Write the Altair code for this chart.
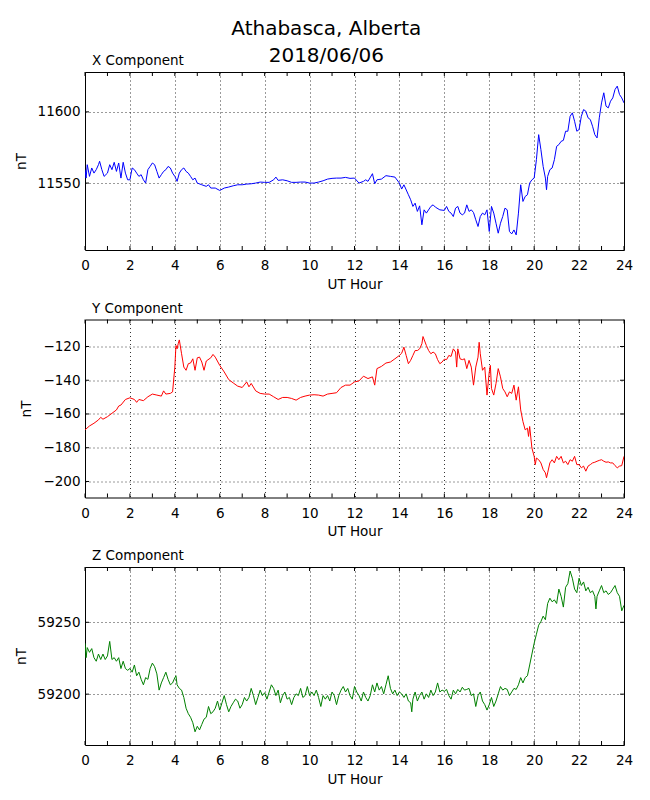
import altair as alt
import pandas as pd

TITLE_LINES = ["Athabasca, Alberta", "2018/06/06"]
HOUR_LABELS = list(range(0, 25, 2))
HOUR_MINOR = list(range(0, 25))

X_TICKS = [11550, 11600]
Y_TICKS = [-200, -180, -160, -140, -120]
Z_TICKS = [59200, 59250]

X_DOMAIN = [11503, 11628]
Y_DOMAIN = [-209.5, -104]
Z_DOMAIN = [59164.6, 59288.5]

X_SERIES = [(0.0,11559.4),(0.05,11553.5),(0.1,11562.9),(0.2,11554.7),(0.3,11560.6),(0.4,11557.0),(0.5,11559.4),(0.6,11562.9),(0.65,11565.3),(0.75,11559.4),(0.85,11554.7),(1.0,11557.0),(1.1,11562.9),(1.2,11559.4),(1.3,11564.6),(1.4,11558.2),(1.5,11564.1),(1.6,11553.5),(1.7,11564.6),(1.8,11557.0),(1.9,11552.3),(2.0,11552.3),(2.1,11560.6),(2.2,11559.4),(2.3,11557.0),(2.4,11554.7),(2.5,11555.9),(2.6,11552.3),(2.7,11550.0),(2.8,11559.4),(2.9,11561.7),(3.0,11564.1),(3.1,11562.9),(3.2,11558.2),(3.3,11553.5),(3.4,11555.9),(3.5,11558.2),(3.6,11559.4),(3.7,11561.7),(3.8,11560.6),(3.9,11557.0),(4.0,11554.7),(4.1,11551.2),(4.2,11557.0),(4.3,11559.4),(4.4,11560.6),(4.5,11558.2),(4.6,11557.0),(4.7,11554.7),(4.8,11552.3),(4.9,11553.5),(5.0,11550.0),(5.2,11548.8),(5.4,11547.7),(5.5,11548.8),(5.6,11546.5),(5.8,11546.5),(6.0,11544.8),(6.2,11546.5),(6.4,11547.2),(6.6,11548.1),(6.8,11548.8),(7.0,11548.8),(7.2,11549.3),(7.4,11549.5),(7.6,11550.0),(7.8,11550.7),(8.0,11550.5),(8.2,11550.5),(8.4,11552.3),(8.5,11554.2),(8.6,11551.9),(8.8,11552.3),(9.0,11551.6),(9.2,11550.5),(9.4,11550.5),(9.6,11550.7),(9.8,11550.7),(10.0,11550.0),(10.2,11550.0),(10.4,11550.7),(10.6,11551.6),(10.8,11552.8),(11.0,11553.3),(11.2,11553.5),(11.4,11553.5),(11.6,11554.0),(11.8,11553.3),(12.0,11553.5),(12.2,11550.0),(12.4,11551.2),(12.5,11552.3),(12.6,11551.2),(12.8,11556.6),(12.9,11549.5),(13.0,11552.3),(13.2,11552.8),(13.4,11555.2),(13.6,11554.7),(13.8,11554.2),(14.0,11550.0),(14.1,11545.8),(14.2,11548.8),(14.4,11541.8),(14.5,11538.3),(14.6,11533.6),(14.7,11535.9),(14.8,11530.1),(14.9,11534.0),(15.0,11520.7),(15.1,11531.2),(15.2,11528.9),(15.4,11533.6),(15.5,11534.7),(15.6,11533.1),(15.8,11531.2),(16.0,11530.8),(16.1,11533.6),(16.2,11530.1),(16.3,11528.9),(16.4,11526.5),(16.5,11532.4),(16.6,11533.6),(16.7,11528.9),(16.8,11527.7),(16.9,11528.9),(17.0,11534.7),(17.1,11530.1),(17.2,11531.2),(17.3,11529.3),(17.4,11524.2),(17.5,11519.5),(17.6,11526.5),(17.7,11528.9),(17.8,11527.7),(17.9,11531.2),(18.0,11516.0),(18.1,11533.6),(18.2,11528.9),(18.3,11521.8),(18.4,11514.8),(18.5,11521.8),(18.6,11526.5),(18.7,11532.4),(18.8,11531.2),(18.9,11516.0),(19.0,11514.3),(19.1,11517.1),(19.2,11513.6),(19.3,11528.9),(19.4,11548.8),(19.5,11537.1),(19.6,11540.6),(19.7,11541.8),(19.8,11550.0),(19.9,11552.3),(20.0,11553.5),(20.1,11566.4),(20.2,11584.0),(20.3,11573.5),(20.4,11561.7),(20.5,11553.5),(20.55,11545.3),(20.6,11554.7),(20.7,11559.4),(20.8,11560.6),(20.9,11566.4),(21.0,11575.8),(21.1,11577.0),(21.2,11579.3),(21.3,11580.0),(21.4,11586.4),(21.5,11586.4),(21.6,11596.9),(21.7,11599.3),(21.8,11593.4),(21.9,11586.4),(22.0,11587.6),(22.1,11596.9),(22.2,11601.6),(22.3,11600.5),(22.4,11595.8),(22.5,11594.6),(22.6,11589.9),(22.7,11584.0),(22.8,11581.7),(22.9,11595.8),(23.0,11606.3),(23.1,11613.4),(23.2,11604.0),(23.3,11602.8),(23.4,11607.5),(23.5,11609.8),(23.6,11615.7),(23.7,11618.1),(23.8,11612.2),(23.9,11609.8),(24.0,11606.3)]

Y_SERIES = [(0.0,-169.4),(0.2,-167.1),(0.4,-165.5),(0.6,-163.5),(0.7,-162.0),(0.8,-163.1),(1.0,-161.6),(1.2,-159.6),(1.4,-157.6),(1.5,-155.3),(1.6,-154.7),(1.8,-151.4),(2.0,-150.4),(2.2,-151.4),(2.3,-153.1),(2.4,-151.4),(2.6,-152.1),(2.8,-149.8),(3.0,-148.2),(3.2,-148.8),(3.4,-149.4),(3.5,-146.3),(3.6,-148.2),(3.8,-147.8),(3.9,-146.9),(4.0,-132.2),(4.05,-119.4),(4.1,-121.4),(4.15,-118.4),(4.2,-116.1),(4.3,-124.3),(4.4,-132.2),(4.5,-134.1),(4.6,-130.2),(4.7,-129.8),(4.8,-127.3),(4.9,-134.1),(5.0,-126.7),(5.1,-126.3),(5.2,-129.2),(5.3,-134.1),(5.4,-128.6),(5.6,-126.7),(5.7,-124.7),(5.8,-126.3),(6.0,-131.2),(6.2,-135.1),(6.4,-139.6),(6.6,-141.6),(6.8,-143.5),(7.0,-144.3),(7.2,-141.0),(7.3,-143.9),(7.4,-141.9),(7.6,-146.3),(7.8,-147.8),(8.0,-148.2),(8.2,-148.2),(8.4,-149.8),(8.6,-151.4),(8.8,-150.2),(9.0,-150.2),(9.2,-150.8),(9.4,-151.8),(9.6,-150.2),(9.8,-149.4),(10.0,-148.8),(10.2,-148.6),(10.4,-148.8),(10.6,-149.4),(10.8,-148.2),(11.0,-147.8),(11.2,-147.4),(11.4,-144.3),(11.6,-142.9),(11.8,-142.9),(12.0,-141.0),(12.2,-140.4),(12.4,-137.6),(12.6,-139.0),(12.8,-138.0),(12.9,-142.9),(13.0,-133.1),(13.2,-131.8),(13.4,-129.8),(13.6,-129.2),(13.8,-127.3),(14.0,-125.3),(14.1,-124.0),(14.2,-120.4),(14.3,-125.3),(14.4,-130.2),(14.5,-128.2),(14.6,-125.3),(14.7,-122.4),(14.8,-122.4),(14.9,-121.4),(15.0,-118.4),(15.05,-114.1),(15.2,-119.4),(15.3,-122.4),(15.4,-124.3),(15.5,-123.3),(15.6,-124.3),(15.7,-127.8),(15.8,-130.2),(15.9,-129.2),(16.0,-127.5),(16.1,-127.8),(16.2,-125.3),(16.3,-125.9),(16.4,-121.4),(16.5,-123.3),(16.55,-132.2),(16.6,-121.4),(16.7,-127.3),(16.8,-127.8),(16.9,-127.3),(17.0,-133.1),(17.1,-128.2),(17.2,-132.2),(17.3,-142.9),(17.4,-132.2),(17.5,-126.3),(17.55,-117.5),(17.6,-124.3),(17.7,-134.1),(17.8,-132.2),(17.9,-148.8),(18.0,-135.1),(18.05,-131.2),(18.1,-144.9),(18.2,-148.8),(18.3,-142.0),(18.4,-133.1),(18.5,-138.0),(18.6,-144.9),(18.7,-146.9),(18.8,-149.8),(18.9,-146.9),(19.0,-147.8),(19.1,-142.9),(19.2,-151.8),(19.3,-143.9),(19.4,-157.6),(19.5,-164.5),(19.6,-169.4),(19.7,-168.4),(19.75,-173.3),(19.8,-167.4),(19.9,-180.2),(20.0,-185.1),(20.05,-190.0),(20.1,-186.1),(20.2,-187.1),(20.3,-189.0),(20.4,-192.9),(20.5,-194.9),(20.55,-197.8),(20.6,-194.9),(20.7,-189.0),(20.8,-187.1),(20.9,-189.0),(21.0,-185.1),(21.1,-187.1),(21.2,-185.1),(21.3,-189.0),(21.4,-188.0),(21.5,-190.0),(21.6,-187.1),(21.7,-188.0),(21.8,-185.1),(21.9,-190.0),(22.0,-190.0),(22.1,-191.9),(22.2,-190.9),(22.3,-193.9),(22.4,-190.9),(22.5,-190.0),(22.6,-189.0),(22.7,-188.6),(22.8,-188.0),(22.9,-187.5),(23.0,-187.1),(23.1,-188.0),(23.2,-188.6),(23.3,-188.4),(23.4,-189.0),(23.5,-189.0),(23.6,-190.6),(23.7,-191.9),(23.8,-190.9),(23.9,-190.6),(24.0,-185.1)]

Z_SERIES = [(0.0,59235.4),(0.05,59225.4),(0.1,59232.4),(0.2,59229.1),(0.3,59231.7),(0.4,59225.4),(0.5,59222.9),(0.6,59227.9),(0.7,59224.1),(0.8,59227.9),(0.9,59224.1),(1.0,59226.6),(1.1,59236.7),(1.2,59224.1),(1.3,59225.4),(1.4,59222.9),(1.5,59225.4),(1.6,59217.8),(1.7,59222.9),(1.8,59217.8),(1.9,59216.6),(2.0,59217.8),(2.1,59215.3),(2.2,59220.3),(2.3,59212.8),(2.4,59215.3),(2.5,59210.3),(2.6,59206.5),(2.7,59211.5),(2.8,59210.3),(2.9,59217.8),(3.0,59221.6),(3.1,59219.1),(3.2,59214.1),(3.3,59202.8),(3.4,59207.8),(3.5,59211.5),(3.6,59215.3),(3.7,59210.3),(3.8,59206.5),(3.9,59207.8),(4.0,59211.5),(4.05,59212.8),(4.1,59206.5),(4.2,59204.0),(4.3,59202.8),(4.4,59197.7),(4.5,59190.2),(4.6,59186.4),(4.7,59183.9),(4.8,59180.1),(4.9,59173.8),(5.0,59177.6),(5.1,59175.1),(5.2,59178.9),(5.3,59182.6),(5.4,59183.9),(5.5,59191.4),(5.6,59186.4),(5.7,59187.7),(5.8,59190.2),(5.9,59195.2),(6.0,59188.9),(6.1,59194.0),(6.2,59199.0),(6.3,59192.7),(6.4,59187.7),(6.5,59191.4),(6.6,59194.0),(6.7,59196.5),(6.8,59195.2),(6.9,59190.2),(7.0,59192.7),(7.1,59197.7),(7.2,59195.2),(7.3,59197.7),(7.4,59204.0),(7.5,59199.0),(7.6,59192.7),(7.7,59197.7),(7.8,59202.8),(7.9,59199.0),(8.0,59201.0),(8.1,59196.5),(8.2,59201.5),(8.3,59206.5),(8.4,59204.0),(8.5,59199.0),(8.6,59202.8),(8.7,59194.0),(8.8,59199.0),(8.9,59201.5),(9.0,59196.5),(9.1,59197.7),(9.2,59192.7),(9.3,59197.7),(9.4,59200.2),(9.5,59199.0),(9.6,59204.0),(9.7,59197.7),(9.8,59199.0),(9.9,59205.3),(10.0,59199.0),(10.1,59201.5),(10.2,59199.0),(10.3,59202.8),(10.4,59197.7),(10.5,59191.4),(10.6,59199.0),(10.7,59196.5),(10.8,59199.0),(10.9,59195.2),(11.0,59201.5),(11.1,59199.0),(11.2,59192.7),(11.3,59199.0),(11.4,59202.8),(11.5,59205.3),(11.6,59201.5),(11.7,59204.0),(11.8,59199.0),(11.9,59196.5),(12.0,59205.3),(12.1,59201.5),(12.2,59199.0),(12.3,59195.2),(12.4,59201.5),(12.5,59197.7),(12.6,59195.2),(12.7,59199.0),(12.8,59206.5),(12.9,59201.5),(13.0,59207.8),(13.1,59202.8),(13.2,59205.3),(13.3,59200.2),(13.4,59206.5),(13.5,59212.8),(13.6,59204.0),(13.7,59200.2),(13.8,59202.8),(13.9,59199.0),(14.0,59201.5),(14.1,59200.2),(14.2,59197.7),(14.3,59200.2),(14.4,59195.2),(14.5,59194.0),(14.55,59187.7),(14.6,59196.5),(14.7,59201.5),(14.8,59195.2),(14.9,59199.0),(15.0,59201.5),(15.1,59196.5),(15.2,59200.2),(15.3,59197.7),(15.4,59202.8),(15.5,59199.0),(15.6,59201.5),(15.7,59207.8),(15.8,59201.5),(15.9,59202.8),(16.0,59202.0),(16.1,59203.3),(16.2,59199.0),(16.3,59196.5),(16.4,59202.8),(16.5,59200.2),(16.6,59203.3),(16.7,59201.5),(16.8,59204.8),(16.9,59202.8),(17.0,59203.3),(17.1,59204.0),(17.2,59199.0),(17.3,59200.2),(17.4,59191.4),(17.5,59199.0),(17.6,59201.5),(17.7,59195.2),(17.8,59192.7),(17.9,59188.9),(18.0,59192.7),(18.1,59197.7),(18.2,59191.4),(18.3,59195.2),(18.4,59200.2),(18.5,59205.3),(18.6,59202.8),(18.7,59204.0),(18.8,59203.3),(18.9,59199.0),(19.0,59201.5),(19.1,59204.0),(19.2,59203.3),(19.3,59206.5),(19.4,59211.5),(19.5,59207.8),(19.6,59211.5),(19.7,59212.8),(19.8,59220.3),(19.9,59227.9),(20.0,59235.4),(20.1,59241.7),(20.2,59248.0),(20.3,59250.5),(20.4,59254.3),(20.5,59251.8),(20.6,59263.1),(20.7,59266.8),(20.8,59264.3),(20.9,59265.6),(21.0,59263.1),(21.1,59273.1),(21.2,59268.1),(21.3,59260.6),(21.4,59274.4),(21.5,59276.9),(21.6,59285.7),(21.7,59280.7),(21.8,59273.1),(21.9,59270.6),(22.0,59280.7),(22.1,59275.6),(22.2,59278.1),(22.3,59271.9),(22.4,59274.4),(22.5,59270.6),(22.6,59271.9),(22.7,59268.1),(22.75,59259.3),(22.8,59268.1),(22.9,59271.9),(23.0,59275.6),(23.1,59270.6),(23.2,59271.9),(23.3,59269.4),(23.4,59270.6),(23.5,59273.1),(23.6,59275.6),(23.7,59270.6),(23.8,59268.1),(23.9,59258.0),(24.0,59261.8)]

W = 539
H = 178
TICK = 4
FONT = "DejaVu Sans"


def panel(series, color, name, domain, yticks):
    df = pd.DataFrame(series, columns=["hour", "nT"])
    x = alt.X(
        "hour:Q",
        scale=alt.Scale(domain=[0, 24], nice=False, zero=False),
        axis=alt.Axis(values=HOUR_LABELS, format="d", title="UT Hour",
                      labelFlush=False, labelOverlap=False,
                      labelPadding=8.5, titlePadding=5),
    )
    y = alt.Y(
        "nT:Q",
        scale=alt.Scale(domain=domain, nice=False, zero=False),
        axis=alt.Axis(values=yticks, format="d", title="nT",
                      labelFlush=False, labelOverlap=False,
                      labelPadding=5, titlePadding=9),
    )
    line = alt.Chart(df).mark_line(color=color, strokeWidth=1, clip=True).encode(x=x, y=y)
    hdf = pd.DataFrame({"hour": HOUR_MINOR})
    ydf = pd.DataFrame({"nT": yticks})
    tick_bottom = alt.Chart(hdf).mark_rule(color="black", strokeWidth=1).encode(
        x=x, y=alt.value(H), y2=alt.value(H - TICK))
    tick_top = alt.Chart(hdf).mark_rule(color="black", strokeWidth=1).encode(
        x=x, y=alt.value(0), y2=alt.value(TICK))
    tick_left = alt.Chart(ydf).mark_rule(color="black", strokeWidth=1).encode(
        y=y, x=alt.value(0), x2=alt.value(TICK))
    tick_right = alt.Chart(ydf).mark_rule(color="black", strokeWidth=1).encode(
        y=y, x=alt.value(W - TICK), x2=alt.value(W))
    return alt.layer(line, tick_bottom, tick_top, tick_left, tick_right).properties(
        width=W, height=H,
        title=alt.TitleParams(name, anchor="start", frame="group", fontSize=13.5,
                              font=FONT, fontWeight="normal", offset=4, dx=7),
    )


chart = alt.vconcat(
    panel(X_SERIES, "#0000ff", "X Component", X_DOMAIN, X_TICKS),
    panel(Y_SERIES, "#ff0000", "Y Component", Y_DOMAIN, Y_TICKS),
    panel(Z_SERIES, "#008000", "Z Component", Z_DOMAIN, Z_TICKS),
    spacing=9.5,
).properties(
    title=alt.TitleParams(TITLE_LINES, anchor="middle", fontSize=20, font=FONT,
                          fontWeight="normal", lineHeight=27, offset=-12, dx=3),
    padding={"left": 5, "top": 10, "right": 5, "bottom": 5},
).configure_view(
    stroke="black", strokeWidth=1
).configure_axis(
    labelFont=FONT, titleFont=FONT, labelFontSize=13.5, titleFontSize=13.5,
    titleFontWeight="normal", labelColor="black", titleColor="black",
    grid=True, gridColor="black", gridDash=[1, 3], gridWidth=0.8, gridOpacity=1,
    domain=False, ticks=False,
).configure_title(color="black")

chart.save("out.html", embed_options={"renderer": "svg", "actions": False})
